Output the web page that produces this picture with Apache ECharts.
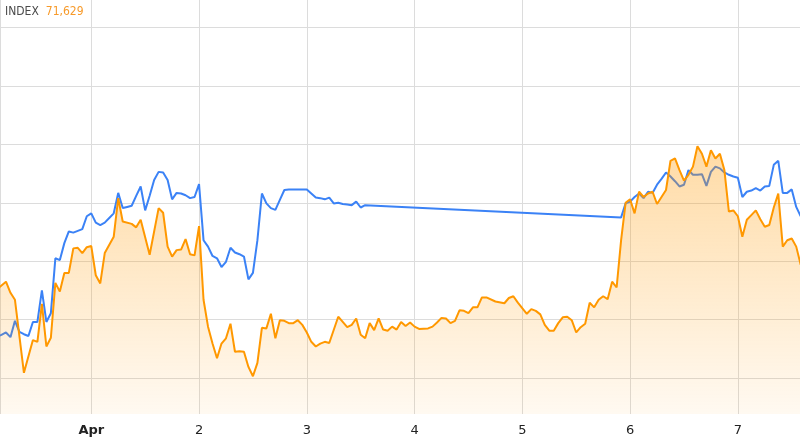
<!DOCTYPE html>
<html>
<head>
<meta charset="utf-8">
<title>INDEX</title>
<script src="https://cdn.jsdelivr.net/npm/echarts@6/dist/echarts.min.js"></script>
<style>
  html, body { margin: 0; padding: 0; background: #fff; }
  #main { width: 800px; height: 445px; }
</style>
</head>
<body>
<div id="main"></div>
<script>
// hours are counted from Apr 1 2020 00:00
var dayZero = new Date(2020, 3, 1).getTime();
var HOUR = 3600 * 1000;
var viewFromHour = -20.33;
var viewToHour = 157.84;
var monthNames = ['Jan', 'Feb', 'Mar', 'Apr', 'May', 'Jun', 'Jul', 'Aug', 'Sep', 'Oct', 'Nov', 'Dec'];
var lastValueText = '71,629';

var blueHours = [-21,-20,-19,-18,-17,-16,-15,-14,-13,-12,-11,-10,-9,-8,-7,-6,-5,-4,-3,-2,-1,0,1,2,3,4,5,6,7,8,9,10,11,12,13,14,15,16,17,18,19,20,21,22,23,24,25,26,27,28,29,30,31,32,33,34,35,36,37,38,39,40,41,42,43,44,45,46,47,48,49,50,51,52,53,54,55,56,57,58,59,60,61,
  118,119,120,121,122,123,124,125,126,127,128,129,130,131,132,133,134,135,136,137,138,139,140,141,142,143,144,145,146,147,148,149,150,151,152,153,154,155,156,157,158];
var blueValues = [171,174,178,170,198,179,175,172,196,196,250,196,211,305,302,331,351,349,352,355,377,382,366,362,366,374,382,417,391,393,395,412,428,387,412,439,453,452,439,406,417,416,413,408,410,432,336,325,309,305,290,299,323,315,312,308,269,280,336,416,399,391,388,405,422,423,423,423,423,423,416,409,408,406,409,399,400,398,397,396,402,392,396,
  375,399,402,410,416,408,419,417,431,441,452,445,437,428,431,456,448,448,449,429,453,462,459,452,448,445,443,410,419,421,425,421,428,429,465,472,417,417,423,393,377];

var orangeHours = [-21,-19,-18,-17,-15,-13,-12,-11,-10,-9,-8,-7,-6,-5,-4,-3,-2,-1,0,1,2,3,5,6,7,9,10,11,13,15,16,17,18,19,20,21,22,23,24,25,26,27,28,29,30,31,32,33,34,35,36,37,38,39,40,41,42,43,44,45,46,47,48,49,50,51,52,53,55,56,57,58,59,60,61,62,63,64,65,66,67,68,69,70,71,72,73,75,76,77,78,79,80,81,82,83,84,85,86,87,88,90,92,93,94,95,97,98,99,100,101,102,103,104,105,106,107,108,109,110,111,112,113,114,115,116,117,118,119,120,121,122,123,124,125,126,127,128,129,130,131,132,133,134,135,136,137,138,139,140,141,142,143,144,145,146,147,148,149,150,151,152,153,154,155,156,157,158];
var orangeValues = [252,265,246,234,109,165,162,227,154,169,263,248,280,280,322,323,314,324,326,276,262,314,342,408,368,364,358,371,311,391,383,325,308,319,320,338,312,310,360,234,188,159,134,159,168,193,145,146,145,119,103,126,186,185,210,168,199,198,194,194,199,191,178,162,154,159,162,160,205,196,187,191,202,174,168,194,182,202,183,181,188,183,196,189,195,188,184,185,188,195,203,202,194,198,216,215,211,221,221,238,238,231,228,237,240,229,210,218,215,209,191,181,181,194,204,205,199,178,187,193,229,221,234,240,235,265,255,336,400,406,382,419,410,416,419,398,410,422,472,476,456,438,448,462,497,484,462,490,476,484,456,385,387,377,342,371,379,387,372,359,362,392,416,325,336,339,325,294];

function toPoints(hours, values) {
  return hours.map(function (h, i) {
    return [dayZero + h * HOUR, values[i]];
  });
}

var chart = echarts.init(document.getElementById('main'));
var option = {
  animation: false,
  title: {
    text: '{name|INDEX}{val|' + lastValueText + '}',
    left: 5,
    top: 6,
    padding: 0,
    textStyle: {
      fontWeight: 'normal',
      rich: {
        name: { fontFamily: 'DejaVu Sans Condensed, DejaVu Sans', fontSize: 12, fontWeight: 'normal', color: '#4a4a4a' },
        val: { fontFamily: 'DejaVu Sans Condensed, DejaVu Sans', fontSize: 12, fontWeight: 'normal', color: '#f79a2a', padding: [0, 0, 0, 7] }
      }
    }
  },
  grid: {
    left: 0,
    right: 0,
    top: 0,
    bottom: 31
  },
  xAxis: {
    type: 'time',
    min: dayZero + viewFromHour * HOUR,
    max: dayZero + viewToHour * HOUR,
    minInterval: 24 * HOUR,
    maxInterval: 24 * HOUR,
    axisLine: { show: false },
    axisTick: { show: false },
    splitLine: { show: true, lineStyle: { color: '#dcdcdc', width: 1 } },
    axisLabel: {
      margin: 10,
      fontFamily: 'DejaVu Sans',
      fontSize: 13,
      color: '#222',
      formatter: function (val) {
        var d = new Date(val);
        if (d.getDate() === 1) {
          return '{m|' + monthNames[d.getMonth()] + '}';
        }
        return String(d.getDate());
      },
      rich: {
        m: { fontFamily: 'DejaVu Sans', fontSize: 13, fontWeight: 'bold', color: '#222' }
      }
    }
  },
  yAxis: {
    type: 'value',
    min: 38.4,
    max: 747.3,
    splitNumber: 7,
    axisLine: { show: false },
    axisTick: { show: false },
    axisLabel: { show: false },
    splitLine: {
      show: true,
      showMinLine: false,
      showMaxLine: false,
      lineStyle: { color: '#dcdcdc', width: 1 }
    }
  },
  series: [
    {
      name: 'blue',
      type: 'line',
      showSymbol: false,
      data: toPoints(blueHours, blueValues),
      lineStyle: { color: '#3b82f6', width: 2 },
      itemStyle: { color: '#3b82f6' },
      z: 2
    },
    {
      name: 'INDEX',
      type: 'line',
      showSymbol: false,
      data: toPoints(orangeHours, orangeValues),
      lineStyle: { color: '#ff9800', width: 2 },
      itemStyle: { color: '#ff9800' },
      areaStyle: {
        origin: 'start',
        color: new echarts.graphic.LinearGradient(0, 0, 0, 1, [
          { offset: 0, color: 'rgba(255,152,0,0.5)' },
          { offset: 1, color: 'rgba(255,152,0,0.08)' }
        ])
      },
      z: 3
    }
  ]
};
chart.setOption(option);
</script>
</body>
</html>
